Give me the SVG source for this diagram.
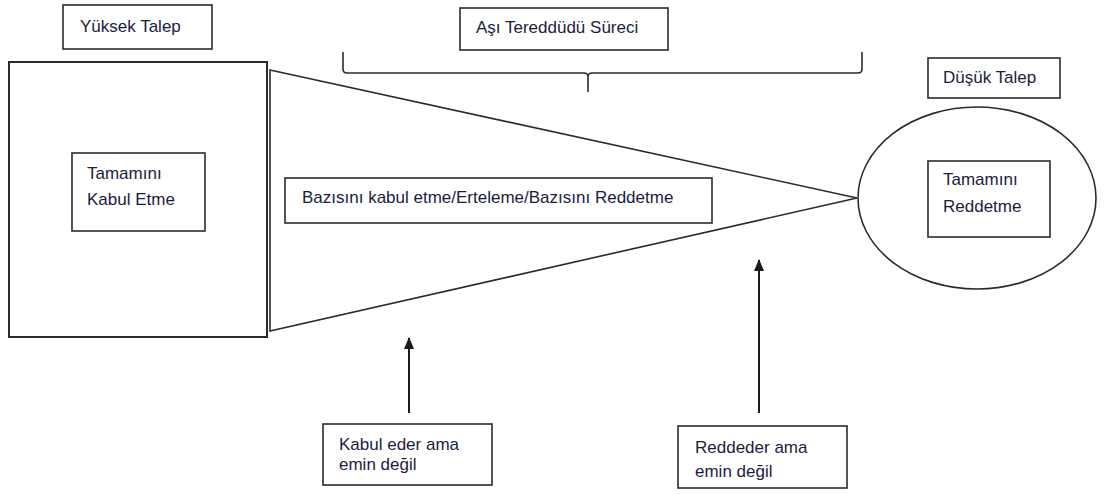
<svg xmlns="http://www.w3.org/2000/svg" width="1105" height="494" viewBox="0 0 1105 494">
<defs>
<style>
.box{fill:#fff;stroke:#2b2b2b;stroke-width:1.6}
.ln{fill:none;stroke:#2b2b2b;stroke-width:1.6}
.t{font-family:"Liberation Sans",Arial,sans-serif;font-size:17px;fill:#1c1c40}
</style>
<marker id="ah" viewBox="0 0 12 10" refX="11" refY="5" markerWidth="12" markerHeight="10" markerUnits="userSpaceOnUse" orient="auto">
<path d="M0,0 L12,5 L0,10 Z" fill="#1a1a1a"/>
</marker>
</defs>
<rect width="1105" height="494" fill="#fff"/>
<g id="connectors">
<polygon class="ln" points="270,70 857,198 270,331"/>
<path class="ln" d="M343,52 V69 Q343,73 347,73 H584 Q588,73 588,77 V92 M588,77 Q588,73 592,73 H858 Q862,73 862,69 V52"/>
<line x1="409" y1="413" x2="409" y2="338" stroke="#1a1a1a" stroke-width="2" marker-end="url(#ah)"/>
<line x1="759" y1="413" x2="759" y2="260" stroke="#1a1a1a" stroke-width="2" marker-end="url(#ah)"/>
</g>
<g id="yuksek-talep">
<rect class="box" x="63" y="5" width="149" height="44"/>
<text class="t" x="80" y="32">Yüksek Talep</text>
</g>
<g id="asi-tereddudu">
<rect class="box" x="460" y="8" width="208" height="42"/>
<text class="t" x="476" y="33">Aşı Tereddüdü Süreci</text>
</g>
<g id="dusuk-talep">
<rect class="box" x="928" y="58" width="132" height="40"/>
<text class="t" x="943" y="83">Düşük Talep</text>
</g>
<g id="tamamini-kabul">
<rect class="box" x="9" y="62" width="258" height="275" style="stroke-width:2"/>
<rect class="box" x="72" y="153" width="133" height="78"/>
<text class="t" x="87" y="179">Tamamını</text>
<text class="t" x="87" y="205">Kabul Etme</text>
</g>
<g id="bazisini">
<rect class="box" x="285" y="178" width="427" height="45"/>
<text class="t" x="302" y="203">Bazısını kabul etme/Erteleme/Bazısını Reddetme</text>
</g>
<g id="tamamini-reddetme">
<ellipse class="box" cx="977" cy="198" rx="119" ry="91"/>
<rect class="box" x="928" y="161" width="122" height="76"/>
<text class="t" x="943" y="185">Tamamını</text>
<text class="t" x="943" y="212">Reddetme</text>
</g>
<g id="kabul-eder">
<rect class="box" x="323" y="424" width="169" height="61"/>
<text class="t" x="339" y="450">Kabul eder ama</text>
<text class="t" x="339" y="470">emin değil</text>
</g>
<g id="reddeder">
<rect class="box" x="678" y="426" width="169" height="62"/>
<text class="t" x="695" y="453">Reddeder ama</text>
<text class="t" x="695" y="477">emin değil</text>
</g>
</svg>
